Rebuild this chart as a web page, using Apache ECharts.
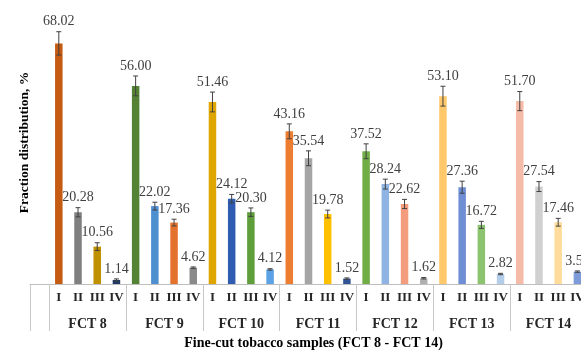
<!DOCTYPE html>
<html>
<head>
<meta charset="utf-8">
<script src="https://cdn.jsdelivr.net/npm/echarts@6/dist/echarts.min.js"></script>
<style>
  html, body { margin: 0; padding: 0; background: #fff; }
  #myChart { width: 581px; height: 356px; }
</style>
</head>
<body>
<div id="myChart"></div>
<script>
// samples and fractions
const groups = ['FCT 8', 'FCT 9', 'FCT 10', 'FCT 11', 'FCT 12', 'FCT 13', 'FCT 14']
const fractions = ['I', 'II', 'III', 'IV']

// fraction distribution, %
const valI = [68.02, 56.00, 51.46, 43.16, 37.52, 53.10, 51.70]
const valII = [20.28, 22.02, 24.12, 35.54, 28.24, 27.36, 27.54]
const valIII = [10.56, 17.36, 20.30, 19.78, 22.62, 16.72, 17.46]
const valIV = [1.14, 4.62, 4.12, 1.52, 1.62, 2.82, 3.50]

// error bars
const errI = [3.3, 2.8, 2.8, 2.1, 2.1, 2.8, 2.7]
const errII = [1.3, 1.1, 1.2, 2.1, 1.4, 1.7, 1.4]
const errIII = [1.1, 0.95, 1.2, 1.1, 1.3, 1.0, 1.1]
const errIV = [0.3, 0.2, 0.2, 0.2, 0.2, 0.2, 0.2]

// colours of each bar
const colI = ['#C55A11', '#548235', '#E0A600', '#ED7D31', '#70AD47', '#FFC86A', '#F6BBA8']
const colII = ['#7F7F7F', '#4E8FD0', '#2F5CB0', '#A5A5A5', '#8FB4E3', '#6F8ED4', '#D0D0D0']
const colIII = ['#BF9000', '#E5722C', '#5E9E3B', '#FFC000', '#F49C7E', '#8CC36E', '#FFDC9C']
const colIV = ['#203864', '#8A8A8A', '#5BA3E6', '#2F5597', '#B0B0B0', '#B4CDEB', '#7D9BD8']

const vals = [valI, valII, valIII, valIV]
const errs = [errI, errII, errIII, errIV]
const cols = [colI, colII, colIII, colIV]

let categories = ['']
let barData = [{ value: '-' }]
let errData = []
groups.forEach((g, gi) => {
  fractions.forEach((f, fi) => {
    categories.push(f)
    barData.push({ value: vals[fi][gi], itemStyle: { color: cols[fi][gi] } })
    errData.push([categories.length - 1, vals[fi][gi], errs[fi][gi]])
  })
})

const serif = '"Liberation Serif", "Times New Roman", serif'
const step = 557 / 29

let myChart = echarts.init(document.getElementById('myChart'))
myChart.setOption({
  animation: false,
  grid: [
    { left: 30, width: 557, top: 1, bottom: 72, outerBoundsMode: 'none', containLabel: false },
    { left: 30 + step, width: step * 28, top: 1, bottom: 72, outerBoundsMode: 'none', containLabel: false }
  ],
  xAxis: [
    {
      type: 'category',
      gridIndex: 0,
      data: categories,
      axisLine: { show: true, lineStyle: { color: '#BFBFBF', width: 1 } },
      axisTick: {
        show: true,
        length: 47,
        interval: function (i) { return i === 0 },
        lineStyle: { color: '#C8C8C8', width: 1 }
      },
      axisLabel: {
        interval: 0,
        margin: 7,
        fontFamily: serif,
        fontWeight: 'bold',
        fontSize: 13,
        color: '#262626'
      },
      name: 'Fine-cut tobacco samples (FCT 8 - FCT 14)',
      nameLocation: 'middle',
      nameGap: 52,
      nameTextStyle: {
        fontFamily: serif,
        fontWeight: 'bold',
        fontSize: 14,
        color: '#000',
        padding: [0, 0, 0, 10]
      }
    },
    {
      type: 'category',
      gridIndex: 1,
      data: groups,
      axisLine: { show: true, lineStyle: { color: 'rgba(0,0,0,0)' } },
      axisTick: { show: true, interval: 0, length: 47, lineStyle: { color: '#C8C8C8', width: 1 } },
      axisLabel: {
        interval: 0,
        margin: 33,
        fontFamily: serif,
        fontWeight: 'bold',
        fontSize: 14,
        color: '#262626'
      }
    }
  ],
  yAxis: [
    {
      type: 'value',
      gridIndex: 0,
      min: 0,
      max: 80,
      axisLine: { show: false },
      axisTick: { show: false },
      axisLabel: { show: false },
      splitLine: { show: false },
      name: 'Fraction distribution, %',
      nameLocation: 'middle',
      nameRotate: 90,
      nameGap: -2,
      nameTextStyle: {
        fontFamily: serif,
        fontWeight: 'bold',
        fontSize: 13.5,
        color: '#000'
      }
    },
    {
      type: 'value',
      gridIndex: 1,
      min: 0,
      max: 80,
      show: false
    }
  ],
  series: [
    {
      type: 'bar',
      xAxisIndex: 0,
      yAxisIndex: 0,
      barWidth: 7.5,
      data: barData
    },
    {
      type: 'custom',
      xAxisIndex: 0,
      yAxisIndex: 0,
      z: 5,
      data: errData,
      renderItem: function (params, api) {
        let x = api.value(0)
        let v = api.value(1)
        let e = api.value(2)
        let hi = api.coord([x, v + e])
        let lo = api.coord([x, v - e])
        let cap = 2.5
        let line = { stroke: '#404040', lineWidth: 1 }
        return {
          type: 'group',
          children: [
            { type: 'line', shape: { x1: hi[0], y1: hi[1], x2: lo[0], y2: lo[1] }, style: line },
            { type: 'line', shape: { x1: hi[0] - cap, y1: hi[1], x2: hi[0] + cap, y2: hi[1] }, style: line },
            { type: 'line', shape: { x1: lo[0] - cap, y1: lo[1], x2: lo[0] + cap, y2: lo[1] }, style: line },
            {
              type: 'text',
              style: {
                text: v.toFixed(2),
                x: hi[0],
                y: hi[1] - 3,
                align: 'center',
                verticalAlign: 'bottom',
                fontFamily: serif,
                fontSize: 14,
                fill: '#404040'
              }
            }
          ]
        }
      }
    }
  ]
})
</script>
</body>
</html>
